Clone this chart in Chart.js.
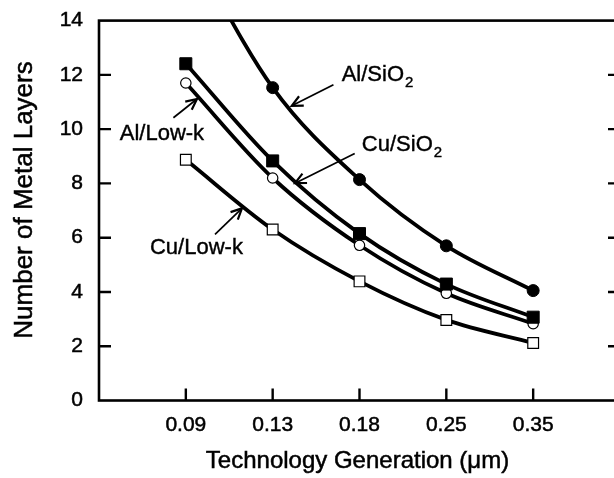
<!DOCTYPE html>
<html>
<head>
<meta charset="utf-8">
<script src="https://cdn.jsdelivr.net/npm/chart.js@4"></script>
<style>
  html, body { margin: 0; padding: 0; background: #fff; overflow: hidden; }
  canvas { display: block; }
</style>
</head>
<body>
<canvas id="layersChart" width="640" height="478"></canvas>
<script>
// technology nodes (um) and number of metal layers for each stack
const generations = ["0.09", "0.13", "0.18", "0.25", "0.35"];
const alSiO2 = [17, 11.53, 8.14, 5.7, 4.05];
const cuSiO2 = [12.41, 8.83, 6.15, 4.29, 3.07];
const alLowK = [11.7, 8.2, 5.72, 3.95, 2.83];
const cuLowK = [8.87, 6.3, 4.39, 2.97, 2.12];
const yTicks = [0, 2, 4, 6, 8, 10, 12, 14];

const xTitle = "Technology Generation (\u03bcm)";
const yTitle = "Number of Metal Layers";

const FONT = "'Liberation Sans', Arial, Helvetica, sans-serif";

// callout labels, placed in axis units (x = node index, y = layers)
const callouts = [
  { text: "Al/SiO", sub: "2", at: [1.795, 11.78], from: [1.70, 11.64], to: [1.22, 10.86] },
  { text: "Cu/SiO", sub: "2", at: [2.027, 9.21], from: [1.945, 9.1], to: [1.258, 8.01] },
  { text: "Al/Low-k", sub: "", at: [-0.761, 9.6], from: [-0.143, 10.42], to: [0.128, 11.11] },
  { text: "Cu/Low-k", sub: "", at: [-0.413, 5.39], from: [0.336, 6.12], to: [0.646, 7.08] },
];

const toPoints = (arr) => arr.map((v, i) => ({ x: i, y: v }));

const series = (label, values, style, filled, radius) => ({
  label: label,
  data: toPoints(values),
  borderColor: "#000",
  borderWidth: 3.8,
  cubicInterpolationMode: "monotone",
  pointStyle: style,
  pointRadius: radius,
  pointBackgroundColor: filled ? "#000" : "#fff",
  pointBorderColor: "#000",
  pointBorderWidth: filled ? 1 : 1.2,
  clip: 0,
});

// filled text with a hairline stroke so it reads a little heavier
const heavyText = (ctx, str, x, y) => {
  ctx.fillText(str, x, y);
  ctx.strokeText(str, x, y);
};

const frame = {
  id: "frame",
  afterDatasetsDraw(chart) {
    const { ctx, chartArea: a, scales } = chart;
    const x = scales.x, y = scales.y;
    ctx.save();
    ctx.strokeStyle = "#000";
    ctx.lineWidth = 2.6;
    ctx.strokeRect(a.left, a.top, a.right - a.left, a.bottom - a.top);

    // inward tick marks
    ctx.lineWidth = 2.4;
    ctx.beginPath();
    generations.forEach((g, i) => {
      const px = x.getPixelForValue(i);
      ctx.moveTo(px, a.bottom);
      ctx.lineTo(px, a.bottom - 12);
    });
    yTicks.slice(1, -1).forEach((t) => {
      const py = y.getPixelForValue(t);
      ctx.moveTo(a.left, py);
      ctx.lineTo(a.left + 12, py);
      ctx.moveTo(a.right, py);
      ctx.lineTo(a.right - 12, py);
    });
    ctx.stroke();

    ctx.fillStyle = "#000";
    ctx.textBaseline = "alphabetic";

    // axis titles
    ctx.lineWidth = 0.5;
    ctx.font = "24px " + FONT;
    ctx.textAlign = "center";
    heavyText(ctx, xTitle, (a.left + a.right) / 2 - 2, 468);
    ctx.save();
    ctx.translate(32, 200);
    ctx.rotate(-Math.PI / 2);
    ctx.font = "26px " + FONT;
    heavyText(ctx, yTitle, 0, 0);
    ctx.restore();
    ctx.textAlign = "left";

    // callouts with arrows
    callouts.forEach((c) => {
      const tx = x.getPixelForValue(c.at[0]), ty = y.getPixelForValue(c.at[1]);
      ctx.lineWidth = 0.4;
      ctx.font = "22px " + FONT;
      heavyText(ctx, c.text, tx, ty);
      if (c.sub) {
        const w = ctx.measureText(c.text).width;
        ctx.font = "15px " + FONT;
        heavyText(ctx, c.sub, tx + w + 1, ty + 6);
      }
      const x0 = x.getPixelForValue(c.from[0]), y0 = y.getPixelForValue(c.from[1]);
      const x1 = x.getPixelForValue(c.to[0]), y1 = y.getPixelForValue(c.to[1]);
      const ang = Math.atan2(y1 - y0, x1 - x0);
      ctx.lineWidth = 1.7;
      ctx.beginPath();
      ctx.moveTo(x0, y0);
      ctx.lineTo(x1, y1);
      ctx.stroke();
      ctx.lineWidth = 2.2;
      ctx.beginPath();
      ctx.moveTo(x1 - 12 * Math.cos(ang - 0.45), y1 - 12 * Math.sin(ang - 0.45));
      ctx.lineTo(x1, y1);
      ctx.lineTo(x1 - 12 * Math.cos(ang + 0.45), y1 - 12 * Math.sin(ang + 0.45));
      ctx.stroke();
    });
    ctx.restore();
  },
};

new Chart(document.getElementById("layersChart"), {
  type: "line",
  data: {
    datasets: [
      series("Al/SiO2", alSiO2, "circle", true, 6),
      series("Cu/SiO2", cuSiO2, "rect", true, 8.5),
      series("Al/Low-k", alLowK, "circle", false, 5.2),
      series("Cu/Low-k", cuLowK, "rect", false, 7.6),
    ],
  },
  options: {
    responsive: false,
    animation: false,
    devicePixelRatio: 1,
    layout: { padding: { top: 17, right: 20, left: 0, bottom: 0 } },
    plugins: { legend: { display: false }, tooltip: { enabled: false } },
    scales: {
      x: {
        type: "linear",
        min: -1,
        max: 5,
        afterFit: (s) => { s.height = 77.5; },
        afterBuildTicks: (s) => { s.ticks = generations.map((g, i) => ({ value: i })); },
        grid: { display: false },
        border: { display: false },
        ticks: {
          padding: 4,
          color: "#000",
          textStrokeColor: "#000",
          textStrokeWidth: 0.5,
          font: { family: FONT, size: 21 },
          callback: (v) => generations[v] ?? "",
        },
      },
      y: {
        min: 0,
        max: 14,
        afterFit: (s) => { s.width = 99; },
        afterBuildTicks: (s) => { s.ticks = yTicks.map((t) => ({ value: t })); },
        grid: { display: false },
        border: { display: false },
        ticks: {
          padding: 8,
          color: "#000",
          textStrokeColor: "#000",
          textStrokeWidth: 0.5,
          font: { family: FONT, size: 21 },
        },
      },
    },
  },
  plugins: [frame],
});
</script>
</body>
</html>
